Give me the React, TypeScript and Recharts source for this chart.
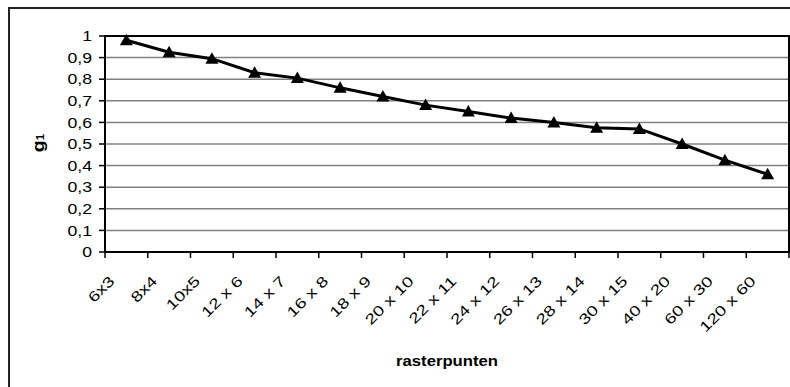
import { LineChart, Line, XAxis, YAxis, CartesianGrid, ReferenceArea } from 'recharts'

const categories = [
  '6x3', '8x4', '10x5', '12 x 6', '14 x 7', '16 x 8', '18 x 9', '20 x 10',
  '22 x 11', '24 x 12', '26 x 13', '28 x 14', '30 x 15', '40 x 20', '60 x 30', '120 x 60',
]
const g1Values = [
  0.98, 0.925, 0.895, 0.83, 0.805, 0.76, 0.72, 0.68,
  0.65, 0.62, 0.6, 0.575, 0.57, 0.5, 0.425, 0.36,
]
const yTicks = [0, 0.1, 0.2, 0.3, 0.4, 0.5, 0.6, 0.7, 0.8, 0.9, 1]

const data = categories.map((name, i) => ({ name, x: i + 0.5, g1: g1Values[i] }))
// boundaries get a tick mark, centres get the label
const xTicks: number[] = []
for (let i = 0; i <= categories.length; i++) {
  xTicks.push(i)
  if (i < categories.length) xTicks.push(i + 0.5)
}

const font = '"Liberation Sans", Arial, sans-serif'

const fmt = (v: number) => String(Math.round(v * 10) / 10).replace('.', ',')

function XTick(props: any) {
  const { x, y, payload } = props
  const v = payload.value as number
  if (Number.isInteger(v)) {
    return <line x1={x} y1={y} x2={x} y2={y + 6} stroke="#000" strokeWidth={1.5} />
  }
  return (
    <text
      transform={`translate(${x - 11},${y + 30}) rotate(-45) scale(1.3,1)`}
      textAnchor="end"
      fontSize={14.5}
      fontFamily={font}
      fill="#000"
    >
      {categories[Math.floor(v)]}
    </text>
  )
}

function YTick(props: any) {
  const { x, y, payload } = props
  return (
    <text
      transform={`translate(${x},${y}) scale(1.22,1)`}
      dy="0.36em"
      textAnchor="end"
      fontSize={14.5}
      fontFamily={font}
      fill="#000"
    >
      {fmt(payload.value)}
    </text>
  )
}

function Triangle(props: any) {
  const { cx, cy, index } = props
  if (cx == null || cy == null) return <g key={`t${index}`} />
  return (
    <path
      key={`t${index}`}
      d={`M${cx},${cy - 6.5} L${cx + 6.5},${cy + 5} L${cx - 6.5},${cy + 5} Z`}
      fill="#000"
    />
  )
}

export default function App() {
  return (
    <div
      style={{
        position: 'absolute',
        left: 0,
        top: 0,
        width: 790,
        height: 387,
        background: '#fff',
        overflow: 'hidden',
      }}
    >
      <div
        style={{
          position: 'absolute',
          left: 8,
          top: 7,
          width: 800,
          height: 400,
          border: '2px solid #222',
        }}
      />
      <div style={{ position: 'absolute', left: 0, top: 0 }}>
        <LineChart width={790} height={387} data={data} margin={{ top: 36, right: 1, bottom: 0, left: 0 }}>
          <CartesianGrid horizontal vertical={false} stroke="#808080" strokeWidth={1.5} />
          <ReferenceArea x1={0} x2={16} y1={0} y2={1} fill="none" stroke="#000" strokeWidth={2} />
          <XAxis
            dataKey="x"
            type="number"
            domain={[0, categories.length]}
            ticks={xTicks}
            interval={0}
            height={135}
            tickSize={0}
            tickMargin={0}
            tickLine={false}
            axisLine={{ stroke: '#000', strokeWidth: 2 }}
            tick={<XTick />}
          />
          <YAxis
            type="number"
            domain={[0, 1]}
            ticks={yTicks}
            interval={0}
            width={105}
            tickSize={6}
            tickMargin={7}
            tickLine={{ stroke: '#000', strokeWidth: 1.5 }}
            axisLine={{ stroke: '#000', strokeWidth: 1.5 }}
            tick={<YTick />}
          />
          <Line
            dataKey="g1"
            type="linear"
            stroke="#000"
            strokeWidth={3}
            dot={Triangle}
            activeDot={false}
            isAnimationActive={false}
          />
        </LineChart>
      </div>
      <svg
        width={790}
        height={387}
        style={{ position: 'absolute', left: 0, top: 0, pointerEvents: 'none' }}
      >
        <text
          transform="translate(447,366) scale(1.15,1)"
          textAnchor="middle"
          fontSize={14.5}
          fontWeight="bold"
          fontFamily={font}
          fill="#000"
        >
          rasterpunten
        </text>
        <text
          transform="translate(44,143) rotate(-90) scale(1.15,1)"
          textAnchor="middle"
          fontSize={17}
          fontWeight="bold"
          fontFamily={font}
          fill="#000"
        >
          g<tspan fontSize={10}>1</tspan>
        </text>
      </svg>
    </div>
  )
}
